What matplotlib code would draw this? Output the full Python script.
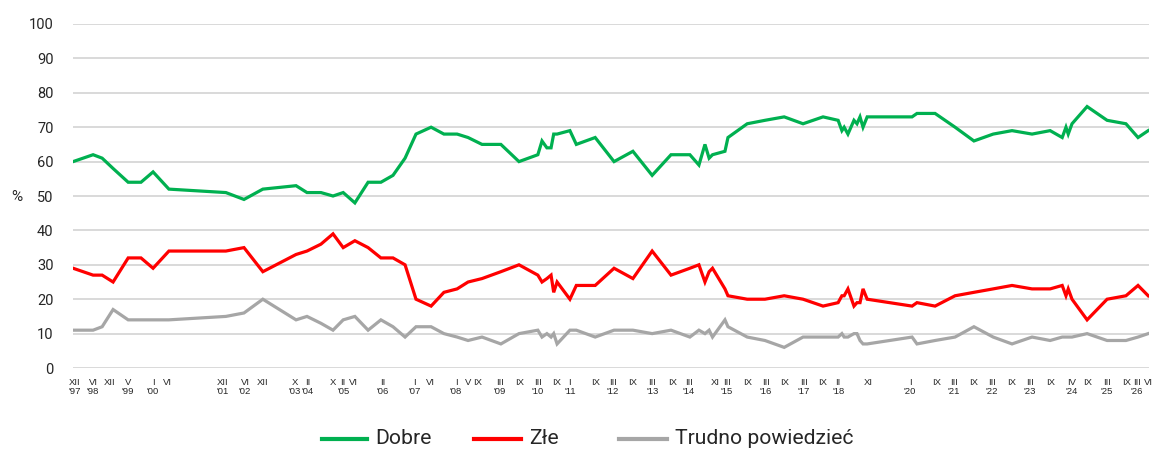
import matplotlib
matplotlib.use("Agg")
import matplotlib.pyplot as plt
from matplotlib.lines import Line2D

# ---- data ----
survey_time = [
    1997.92, 1998.45, 1998.69, 1998.98, 1999.38, 1999.72, 2000.04, 2000.46,
    2001.97, 2002.45, 2002.95, 2003.83, 2004.12, 2004.49, 2004.81, 2005.08,
    2005.39, 2005.74, 2006.08, 2006.40, 2006.72, 2007.01, 2007.41, 2007.75,
    2008.10, 2008.39, 2008.76, 2009.26, 2009.74, 2010.24, 2010.35, 2010.48,
    2010.59, 2010.66, 2010.75, 2011.09, 2011.26, 2011.76, 2012.26, 2012.76,
    2013.27, 2013.77, 2014.27, 2014.51, 2014.67, 2014.78, 2014.87, 2015.20,
    2015.28, 2015.79, 2016.26, 2016.77, 2017.27, 2017.80, 2018.20, 2018.30,
    2018.36, 2018.46, 2018.62, 2018.70, 2018.78, 2018.86, 2018.97, 2020.16,
    2020.29, 2020.77, 2021.30, 2021.80, 2022.31, 2022.81, 2023.34, 2023.82,
    2024.14, 2024.24, 2024.30, 2024.40, 2024.80, 2025.33, 2025.83, 2026.15,
    2026.42,
]
dobre = [
    60, 62, 61, 58, 54, 54, 57, 52,
    51, 49, 52, 53, 51, 51, 50, 51,
    48, 54, 54, 56, 61, 68, 70, 68,
    68, 67, 65, 65, 60, 62, 66, 64,
    64, 68, 68, 69, 65, 67, 60, 63,
    56, 62, 62, 59, 65, 61, 62, 63,
    67, 71, 72, 73, 71, 73, 72, 69,
    70, 68, 72, 71, 73, 70, 73, 73,
    74, 74, 70, 66, 68, 69, 68, 69,
    67, 70, 68, 71, 76, 72, 71, 67,
    69,
]
zle = [
    29, 27, 27, 25, 32, 32, 29, 34,
    34, 35, 28, 33, 34, 36, 39, 35,
    37, 35, 32, 32, 30, 20, 18, 22,
    23, 25, 26, 28, 30, 27, 25, 26,
    27, 22, 25, 20, 24, 24, 29, 26,
    34, 27, 29, 30, 25, 28, 29, 23,
    21, 20, 20, 21, 20, 18, 19, 21,
    21, 23, 18, 19, 19, 23, 20, 18,
    19, 18, 21, 22, 23, 24, 23, 23,
    24, 21, 23, 20, 14, 20, 21, 24,
    21,
]
trudno = [
    11, 11, 12, 17, 14, 14, 14, 14,
    15, 16, 20, 14, 15, 13, 11, 14,
    15, 11, 14, 12, 9, 12, 12, 10,
    9, 8, 9, 7, 10, 11, 9, 10,
    9, 10, 7, 11, 11, 9, 11, 11,
    10, 11, 9, 11, 10, 11, 9, 14,
    12, 9, 8, 6, 9, 9, 9, 10,
    9, 9, 10, 10, 8, 7, 7, 9,
    7, 8, 9, 12, 9, 7, 9, 8,
    9, 9, 9, 9, 10, 8, 8, 9,
    10,
]

tick_time = [
    1997.97, 1998.45, 1998.90, 1999.38, 2000.04, 2000.41, 2001.89, 2002.48,
    2002.95, 2003.80, 2004.15, 2004.81, 2005.08, 2005.36, 2006.13, 2006.98,
    2007.38, 2008.07, 2008.39, 2008.65, 2009.24, 2009.77, 2010.24, 2010.75,
    2011.09, 2011.76, 2012.23, 2012.76, 2013.27, 2013.80, 2014.25, 2014.94,
    2015.25, 2015.79, 2016.29, 2016.79, 2017.30, 2017.80, 2018.20, 2018.99,
    2020.11, 2020.82, 2021.27, 2021.78, 2022.28, 2022.81, 2023.29, 2023.82,
    2024.40, 2024.82, 2025.33, 2025.86, 2026.12, 2026.42,
]
tick_month = [
    'XII', 'VI', 'XII', 'V', 'I', 'VI', 'XII', 'VI', 'XII', 'X', 'II', 'X',
    'II', 'VI', 'II', 'I', 'VI', 'I', 'V', 'IX', 'III', 'IX', 'III', 'IX',
    'I', 'IX', 'III', 'IX', 'III', 'IX', 'III', 'XI', 'III', 'IX', 'III',
    'IX', 'III', 'IX', 'II', 'XI', 'I', 'IX', 'III', 'IX', 'III', 'IX',
    'III', 'IX', 'IV', 'IX', 'III', 'IX', 'III', 'VI',
]
tick_year = [
    "'97", "'98", "", "'99", "'00", "", "'01", "'02", "", "'03", "'04", "",
    "'05", "", "'06", "'07", "", "'08", "", "", "'09", "", "'10", "",
    "'11", "", "'12", "", "'13", "", "'14", "", "'15", "", "'16",
    "", "'17", "", "'18", "", "'20", "", "'21", "", "'22", "",
    "'23", "", "'24", "", "'25", "", "'26", "",
]

series_names = ["Dobre", "Złe", "Trudno powiedzieć"]
series_colors = ["#00b050", "#ff0000", "#a6a6a6"]

W, H = 1153, 451

# ---- figure ----
fig = plt.figure(figsize=(W / 100, H / 100), dpi=100)
ax = fig.add_axes([0.0633, 0.184, 0.9332, 0.7628])

for yv in range(0, 101, 10):
    ax.axhline(yv, color="#d9d9d9", lw=1.4, zorder=0)

for vals, col in zip([dobre, zle, trudno], series_colors):
    ax.plot(survey_time, vals, color=col, lw=2.3, solid_joinstyle="miter", zorder=3)

ax.set_xlim(1997.917, 2026.44)
ax.set_ylim(0, 100)
ax.set_yticks(range(0, 101, 10))
ax.set_yticklabels([str(v) for v in range(0, 101, 10)], fontfamily="Roboto",
                   fontsize=10.5, color="#262626")
ax.set_xticks(tick_time)
ax.set_xticklabels([f"{m}\n{y}" for m, y in zip(tick_month, tick_year)],
                   fontfamily="Liberation Sans", fontsize=6.8, color="#262626",
                   linespacing=1.1)
ax.tick_params(axis="both", length=0)
ax.tick_params(axis="x", pad=7)
ax.tick_params(axis="y", pad=14)
for s in ax.spines.values():
    s.set_visible(False)

fig.text(17 / W, 1 - 197 / H, "%", fontfamily="Roboto", fontsize=11,
         color="#262626", ha="center", va="center")

# ---- legend, entries placed like the reference ----
legend_handle_px = [(322, 367), (474, 521), (619, 667)]
legend_y = 1 - 439 / H
for (x0, x1), name, col in zip(legend_handle_px, series_names, series_colors):
    fig.add_artist(Line2D([x0 / W, x1 / W], [legend_y, legend_y],
                          transform=fig.transFigure, color=col, lw=3.0))
    fig.text((x1 + 8) / W, legend_y, name, fontfamily="Roboto", fontsize=15.2,
             color="#262626", ha="left", va="center")

fig.savefig("out.png", dpi=100)
